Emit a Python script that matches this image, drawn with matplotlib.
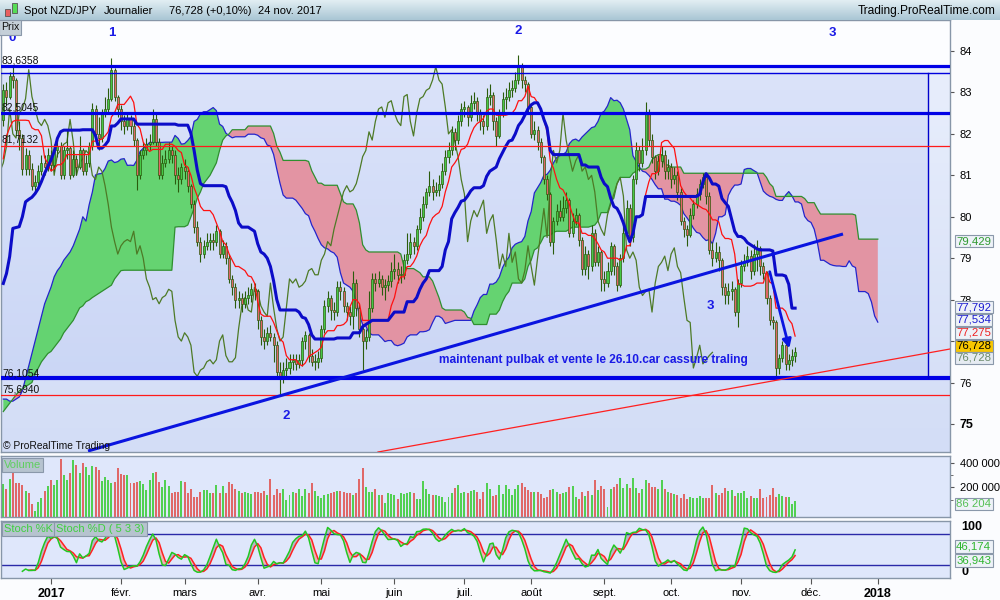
import numpy as np
import pandas as pd
import matplotlib
matplotlib.use("Agg")
import matplotlib.pyplot as plt
from matplotlib.patches import Rectangle, FancyArrowPatch
from matplotlib.colors import LinearSegmentedColormap

plt.rcParams['font.family'] = ['Liberation Sans', 'DejaVu Sans']

# ---------------- DATA (daily NZD/JPY, bar index 0 = 2 Jan 2017, weekdays) ----------------
first_bar = -15
first_open = 82.33
closes = [83.05, 82.9, 83.4, 83.3, 82.1, 81.9, 81.15, 81.5, 81.15, 80.75,
          80.85, 81.1, 81.3, 81.2, 81.5,
          81.25, 81.6, 81.7, 81.0, 81.6, 81.65, 81.0, 81.4, 81.2, 81.6,
          81.1, 81.3, 81.7, 82.6, 82.0, 81.9, 82.5, 82.6, 82.85, 83.55,
          82.9, 82.6, 82.3, 82.2, 82.35, 82.2, 81.85, 81.0, 81.5, 81.6,
          81.75, 81.8, 82.35, 81.8, 81.0, 81.3, 81.4, 81.6, 81.5, 81.0,
          80.9, 81.2, 81.1, 80.75, 80.3, 79.75, 79.4, 79.1, 79.3, 79.4,
          79.45, 79.4, 79.65, 79.1, 79.3, 79.0, 78.5, 78.3, 78.0, 78.05,
          77.9, 78.05, 78.1, 78.25, 78.2, 77.5, 77.1, 77.0, 77.2, 77.1,
          76.9, 76.25, 76.15, 76.3, 76.35, 76.5, 76.55, 76.45, 76.55, 77.0,
          77.15, 76.65, 76.5, 76.5, 76.6, 77.3, 77.85, 78.05, 77.75, 77.7,
          78.3, 78.2, 77.85, 77.7, 77.6, 78.4, 77.8, 77.3, 77.0, 77.1,
          77.8, 78.5, 78.4, 78.5, 78.3, 78.35, 78.45, 78.7, 78.75, 78.6,
          78.6, 78.95, 79.1, 79.4, 79.3, 79.7, 80.0, 80.3, 80.6, 80.75,
          80.6, 80.65, 80.8, 81.1, 81.45, 81.6, 82.05, 81.85, 82.3, 82.6,
          82.65, 82.4, 82.75, 82.8, 82.5, 82.3, 82.2, 82.9, 82.95, 82.3,
          81.95, 82.5, 82.85, 82.9, 83.05, 83.1, 83.3, 83.62, 83.3, 83.2,
          82.65, 82.0, 82.1, 81.8, 81.45, 80.9, 80.55, 79.4, 79.9, 80.15,
          80.0, 80.2, 80.4, 79.6, 79.9, 80.05, 79.45, 78.75, 79.1, 78.8,
          79.6, 78.9, 79.15, 78.5, 78.4, 78.7, 79.3, 78.8, 78.35, 79.0,
          79.6, 80.2, 79.5, 80.9, 81.6, 81.3, 81.6, 82.5, 81.85, 81.45,
          81.1, 81.35, 81.5, 81.1, 81.2, 80.9, 81.0, 80.6, 79.9, 79.7,
          79.55, 80.05, 80.3, 80.55, 80.8, 80.95, 80.5, 79.2, 79.0, 79.15,
          78.95, 78.3, 78.1, 78.2, 78.25, 77.7, 78.4, 78.8, 78.9, 79.05,
          78.7, 79.1, 79.25, 78.8, 78.65, 78.05, 77.5, 77.45, 76.35, 76.6,
          76.9, 76.45, 76.55, 76.65, 76.728]
highs = [83.2, 83.25, 83.5, 83.64, 83.35, 82.3, 82.0, 81.65, 81.6, 81.3,
         81.0, 81.25, 81.5, 81.5, 81.65,
         81.6, 81.75, 81.95, 81.8, 81.7, 82.1, 81.7, 81.6, 81.5, 81.95,
         81.65, 81.5, 81.8, 82.75, 82.7, 82.4, 82.6, 82.9, 83.1, 83.82,
         83.6, 82.95, 82.7, 82.45, 82.5, 82.45, 82.3, 81.9, 81.6, 81.8,
         81.9, 82.0, 82.6, 82.5, 81.9, 81.5, 81.6, 81.8, 81.7, 81.6,
         81.2, 81.3, 81.4, 81.2, 80.8, 80.4, 79.9, 79.5, 79.45, 79.6,
         79.6, 79.6, 79.8, 79.7, 79.45, 79.4, 79.1, 78.6, 78.4, 78.2,
         78.15, 78.2, 78.3, 78.4, 78.4, 78.25, 77.6, 77.3, 77.35, 77.4,
         77.2, 77.0, 76.5, 76.5, 76.6, 76.7, 76.7, 76.7, 76.7, 77.1,
         77.25, 77.2, 76.8, 76.7, 76.75, 77.4, 78.0, 78.2, 78.1, 77.95,
         78.45, 78.45, 78.3, 77.95, 77.85, 78.7, 78.5, 77.9, 77.4, 77.3,
         78.2, 78.65, 78.65, 78.7, 78.6, 78.5, 78.6, 78.9, 79.1, 78.9,
         78.8, 79.1, 79.6, 79.6, 79.5, 79.8, 80.2, 80.5, 80.7, 81.1,
         80.9, 80.85, 81.0, 81.3, 81.6, 81.8, 82.2, 82.15, 82.45, 82.75,
         82.8, 82.7, 82.95, 83.0, 82.9, 82.6, 82.45, 83.1, 83.2, 83.0,
         82.4, 82.6, 83.0, 83.1, 83.25, 83.3, 83.5, 83.9, 83.7, 83.4,
         83.25, 82.7, 82.3, 82.2, 81.9, 81.5, 81.0, 80.6, 80.0, 80.3,
         80.4, 80.5, 80.6, 80.45, 80.1, 80.2, 80.1, 79.5, 79.3, 79.2,
         79.8, 79.7, 79.3, 79.2, 78.7, 78.9, 79.4, 79.35, 78.9, 79.1,
         79.8, 80.4, 80.3, 81.0, 81.8, 81.7, 81.9, 82.78, 82.6, 82.0,
         81.5, 81.5, 81.7, 81.6, 81.4, 81.3, 81.2, 81.1, 80.7, 80.0,
         79.8, 80.2, 80.4, 80.7, 80.9, 81.05, 81.0, 80.6, 79.4, 79.4,
         79.3, 79.0, 78.4, 78.4, 78.45, 78.3, 78.5, 78.95, 79.1, 79.3,
         79.2, 79.35, 79.45, 79.3, 78.9, 78.7, 78.1, 77.6, 77.5, 76.7,
         77.0, 76.95, 76.7, 76.8, 76.85]
lows = [82.2, 82.7, 82.85, 83.1, 82.0, 81.6, 81.0, 81.0, 81.0, 80.65,
        80.56, 80.7, 81.0, 81.0, 81.1,
        81.1, 81.1, 81.45, 80.9, 80.9, 81.4, 80.9, 80.95, 81.0, 81.15,
        81.0, 81.0, 81.2, 81.6, 81.8, 81.6, 81.8, 82.4, 82.5, 82.8,
        82.8, 82.4, 82.1, 82.0, 82.1, 82.0, 81.7, 80.65, 80.9, 81.4,
        81.5, 81.6, 81.75, 81.7, 80.9, 80.9, 81.2, 81.3, 81.3, 80.8,
        80.6, 80.8, 80.9, 80.6, 80.2, 79.6, 79.3, 78.9, 79.0, 79.2,
        79.2, 79.2, 79.3, 79.0, 79.0, 78.85, 78.4, 78.1, 77.8, 77.8,
        77.7, 77.8, 77.9, 77.95, 78.0, 77.3, 76.9, 76.8, 76.9, 77.0,
        76.5, 76.1, 75.7, 76.0, 76.1, 76.2, 76.3, 76.3, 76.35, 76.4,
        76.8, 76.5, 76.4, 76.3, 76.35, 76.5, 77.2, 77.7, 77.5, 77.5,
        77.6, 78.0, 77.7, 77.5, 77.4, 77.3, 77.6, 77.1, 76.3, 76.8,
        77.0, 77.7, 78.2, 78.3, 78.1, 78.0, 78.2, 78.3, 78.5, 78.4,
        78.4, 78.5, 78.85, 79.0, 79.1, 79.2, 79.6, 79.9, 80.2, 80.5,
        80.4, 80.5, 80.5, 80.7, 81.0, 81.3, 81.5, 81.6, 81.75, 82.2,
        82.4, 82.2, 82.3, 82.6, 82.3, 82.1, 82.0, 82.1, 82.7, 82.1,
        81.7, 81.9, 82.4, 82.6, 82.8, 82.9, 83.0, 83.2, 83.1, 83.0,
        82.5, 81.9, 81.85, 81.6, 81.3, 80.8, 80.4, 79.3, 79.1, 79.8,
        79.9, 79.9, 80.1, 79.5, 79.5, 79.8, 79.3, 78.6, 78.6, 78.5,
        78.7, 78.8, 78.8, 78.2, 78.2, 78.3, 78.6, 78.6, 78.2, 78.3,
        78.9, 79.5, 79.3, 79.4, 80.8, 81.1, 81.2, 81.5, 81.7, 81.3,
        80.9, 81.0, 81.2, 80.9, 80.9, 80.7, 80.8, 80.4, 79.8, 79.5,
        79.3, 79.5, 79.95, 80.2, 80.4, 80.7, 80.3, 79.1, 78.8, 78.9,
        78.7, 78.1, 77.9, 77.9, 78.0, 77.6, 77.35, 78.3, 78.7, 78.8,
        78.5, 78.6, 78.7, 78.6, 78.5, 77.9, 77.4, 77.3, 76.14, 76.2,
        76.5, 76.3, 76.3, 76.4, 76.5]
volumes_k = [227, 183, 265, 341, 232, 238, 219, 173, 151, 64,
             8, 80, 110, 173, 211, 259, 219, 259, 430, 300,
             259, 314, 422, 384, 314, 395, 362, 300, 373, 368,
             341, 254, 286, 259, 238, 246, 354, 308, 300, 300,
             238, 232, 246, 254, 227, 178, 259, 314, 324, 246,
             205, 259, 211, 156, 164, 162, 254, 243, 156, 189,
             118, 118, 162, 178, 178, 151, 156, 216, 156, 211,
             151, 243, 230, 183, 173, 156, 162, 156, 146, 162,
             159, 151, 173, 137, 270, 137, 183, 151, 183, 99,
             135, 164, 151, 183, 129, 189, 156, 232, 173, 129,
             110, 140, 146, 151, 164, 173, 173, 164, 156, 151,
             137, 156, 270, 357, 200, 164, 164, 183, 137, 137,
             70, 156, 146, 137, 102, 156, 146, 156, 162, 151,
             102, 102, 254, 189, 143, 135, 137, 129, 124, 78,
             118, 151, 197, 219, 151, 159, 151, 173, 178, 164,
             102, 164, 232, 183, 129, 135, 219,
             146, 219, 183, 137, 183, 219, 238, 205, 178, 164,
             164, 159, 146, 110, 118, 178, 183, 164, 146, 151,
             159, 205, 213, 124, 102, 164, 129, 173, 137, 259,
             178, 211, 186, 43, 183, 205, 224, 278, 194, 224,
             194, 278, 194, 151, 183, 259, 238, 205, 200, 183,
             259, 183, 164, 151, 146, 137, 110, 146, 102, 124,
             110, 110, 132, 110, 110, 110, 219, 151, 137, 156,
             191, 173, 178, 132, 151, 156, 170, 110, 129, 110,
             110, 183, 110, 118, 137, 197, 124, 146, 129, 118,
             118, 62, 86.204]

tenkan_early = [81.4, 81.95, 82.15, 82.3, 82.33, 82.33, 82.33, 82.33]
kijun_early = [78.39, 78.63, 79.04, 79.72, 79.74, 79.76, 80.0, 80.36, 80.42, 80.47,
               80.56, 80.68, 80.85, 81.05, 81.21, 81.37, 81.57, 81.89, 82.05, 82.09,
               82.09, 82.09, 82.09, 82.09, 82.09, 82.09]
span_a_early = [75.6, 75.6, 75.55, 75.55, 75.6, 75.65, 75.8, 76.1, 76.4, 76.7,
                77.0, 77.3, 77.6, 77.9, 78.1, 78.3, 78.55, 78.7, 78.8, 78.95,
                79.05, 79.15, 79.3, 79.5, 79.7, 80.0]
span_b_early = [75.3, 75.4, 75.5, 75.6, 75.7, 75.8, 75.85, 75.9, 75.95, 76.0,
                76.2, 76.35, 76.5, 76.6, 76.7,
                76.75, 76.85, 76.95, 77.05, 77.2, 77.3, 77.4, 77.5, 77.65, 77.8,
                77.85, 77.95, 77.99, 78.05, 78.1, 78.15, 78.2, 78.25, 78.3, 78.35,
                78.5, 78.6, 78.7, 78.71, 78.71, 78.71, 78.71, 78.71, 78.71, 78.71,
                78.71, 78.71, 78.71, 78.71, 78.71, 78.71, 78.71, 78.71, 78.71,
                79.75, 79.76, 79.76, 79.76, 79.8, 80.0, 80.2, 80.45, 80.6, 80.8, 80.9,
                81.0, 81.15, 81.3, 81.6, 81.85, 81.95, 82.0, 82.1, 82.1, 82.1, 82.1, 82.1]

month_ticks = [0, 22, 42, 65, 85, 108, 130, 151, 174, 195, 217, 239, 260]
month_labels = ['2017', 'févr.', 'mars', 'avr.', 'mai', 'juin', 'juil.', 'août',
                'sept.', 'oct.', 'nov.', 'déc.', '2018']

level_blue_thick = [83.6358, 82.5045]
level_support = 76.1054
level_red = [81.7132, 75.6940]
level_labels = ['83,6358', '82,5045', '81,7132', '76,1054', '75,6940']
box_top = 83.469

header_parts = ['Spot NZD/JPY', 'Journalier', '76,728 (+0,10%)', '24 nov. 2017']
value_tags = ['79,429', '77,792', '77,534', '77,275', '76,728', '76,728']
vol_tag = '86 204'
stoch_tags = ['46,174', '36,943']

# ---------------- GEOMETRY HELPERS (pixel layout of the 1000x600 picture) ----------------
X0_PX, BAR_PX = 51.0, 3.18
Y84_PX, UNIT_PX = 51.0, 41.44
def bx(px):
    return (px - X0_PX) / BAR_PX
def by(py):
    return 84 - (py - Y84_PX) / UNIT_PX

XMIN, XMAX = bx(1), bx(950)
YMIN, YMAX = by(452), by(20)

# ---------------- CALCULATIONS ----------------
n = len(closes)
x = np.arange(first_bar, first_bar + n)
C = np.array(closes, float)
H = np.array(highs, float)
L = np.array(lows, float)
O = np.concatenate([[first_open], C[:-1]])
H = np.maximum(H, np.maximum(O, C))
L = np.minimum(L, np.minimum(O, C))
up = C >= O
V = np.array(volumes_k, float) * 1000

sH, sL = pd.Series(H), pd.Series(L)
tenkan = ((sH.rolling(9).max() + sL.rolling(9).min()) / 2).to_numpy()
kijun = ((sH.rolling(26).max() + sL.rolling(26).min()) / 2).to_numpy()
te = np.array(tenkan_early); ke = np.array(kijun_early)
tenkan[:len(te)] = np.where(np.isnan(tenkan[:len(te)]), te, tenkan[:len(te)])
kijun[:len(ke)] = np.where(np.isnan(kijun[:len(ke)]), ke, kijun[:len(ke)])
ssa_raw = (tenkan + kijun) / 2
ssb_raw = ((sH.rolling(52).max() + sL.rolling(52).min()) / 2).to_numpy()
span_x = np.arange(first_bar, x[-1] + 27)
span_a = np.full(len(span_x), np.nan)
span_b = np.full(len(span_x), np.nan)
span_a[26:] = ssa_raw
span_b[26:] = ssb_raw
sa = np.array(span_a_early); sb = np.array(span_b_early)
span_a[:len(sa)] = np.where(np.isnan(span_a[:len(sa)]), sa, span_a[:len(sa)])
span_b[:len(sb)] = np.where(np.isnan(span_b[:len(sb)]), sb, span_b[:len(sb)])

hh5 = sH.rolling(5).max(); ll5 = sL.rolling(5).min()
raw_k = 100 * (pd.Series(C) - ll5) / (hh5 - ll5)
stoch_k = raw_k.rolling(3).mean().to_numpy()
stoch_d = pd.Series(stoch_k).rolling(3).mean().to_numpy()

# ---------------- FIGURE ----------------
fig = plt.figure(figsize=(10, 6), dpi=100)
fig.patch.set_facecolor('#fbfcfe')
def fy(py):
    return 1 - py / 600.0

ax = fig.add_axes([0.001, fy(452), 0.949, (452 - 20) / 600])
axv = fig.add_axes([0.001, fy(517), 0.949, (517 - 456) / 600])
axs = fig.add_axes([0.001, fy(578), 0.949, (578 - 521) / 600])
axh = fig.add_axes([0, fy(20), 1, 20 / 600])

SP = '#8796a8'
for a in (ax, axv, axs):
    a.set_xlim(XMIN, XMAX)
    for s in a.spines.values():
        s.set_color(SP)
        s.set_linewidth(1.0)
    a.yaxis.tick_right()
    a.tick_params(axis='y', direction='out', length=3, width=0.8, color='#555555',
                  labelsize=8, pad=4)

# header
grad = np.linspace(0, 1, 64).reshape(-1, 1)
axh.imshow(grad, extent=[0, 1, 0, 1], origin='lower', aspect='auto',
           cmap=LinearSegmentedColormap.from_list('h', ['#a9c6d4', '#e2eef3']))
axh.set_xlim(0, 1000); axh.set_ylim(0, 1); axh.axis('off')
axh.imshow(grad, extent=[0, 1000, 0, 1], origin='lower', aspect='auto',
           cmap=LinearSegmentedColormap.from_list('h', ['#a9c6d4', '#e2eef3']))
axh.add_patch(Rectangle((4.5, 0.22), 5, 0.35, facecolor='#e86060', edgecolor='#555555', lw=0.6))
axh.add_patch(Rectangle((11.5, 0.35), 5, 0.5, facecolor='#55dd55', edgecolor='#555555', lw=0.6))
for txt, px in zip(header_parts, [24, 104, 169, 258]):
    axh.text(px, 0.45, txt, fontsize=8.0, va='center', ha='left', color='#000000')
axh.text(996, 0.45, 'Trading.ProRealTime.com', fontsize=8.6, va='center', ha='right',
         color='#000000')

# ---- main panel ----
ax.set_ylim(YMIN, YMAX)
bg = LinearSegmentedColormap.from_list('bg', ['#d3ddf6', '#e8eefc'])
ax.imshow(grad, extent=[XMIN, XMAX, YMIN, level_blue_thick[0]], origin='lower',
          aspect='auto', cmap=bg, zorder=0)
ax.axhspan(level_blue_thick[0], YMAX, color='#fcfdff', zorder=0.1)
box_right = bx(928)
ax.add_patch(Rectangle((XMIN, level_support), box_right - XMIN, box_top - level_support,
                       facecolor=(0.2, 0.35, 0.9, 0.07), edgecolor='none', zorder=0.2))

# cloud
ax.fill_between(span_x, span_a, span_b, where=span_a >= span_b, interpolate=True,
                color='#5fd36a', alpha=0.95, lw=0, zorder=1)
ax.fill_between(span_x, span_a, span_b, where=span_a < span_b, interpolate=True,
                color='#e4909f', alpha=0.95, lw=0, zorder=1)
ax.plot(span_x, span_a, color='#2424cc', lw=0.9, zorder=1.5)
ax.plot(span_x, span_b, color='#2f8f2f', lw=0.9, zorder=1.5)

# chikou
ax.plot(x - 26, C, color='#4d7a26', lw=0.9, zorder=2)

# candles
dark = '#2a5c0c'
ax.vlines(x, L, H, color=dark, lw=0.8, zorder=3)
body_h = np.maximum(np.abs(C - O), 0.012)
ax.bar(x, body_h, bottom=np.minimum(O, C), width=0.64,
       color=np.where(up, '#46c846', '#e06666'), edgecolor=dark, linewidth=0.5, zorder=3.1)

# tenkan / kijun
ax.plot(x, tenkan, color='#ff1010', lw=0.9, zorder=4)
ax.plot(x, kijun, color='#0c0cc8', lw=2.2, zorder=4)

# horizontal levels
for lv in level_blue_thick:
    ax.axhline(lv, color='#0000e6', lw=2.3, zorder=5)
ax.axhline(level_support, color='#0000e6', lw=3.0, zorder=5)
ax.axhline(box_top, color='#0000dd', lw=1.0, zorder=5)
ax.plot([box_right, box_right], [level_support, box_top], color='#0000cc', lw=1.0, zorder=5)
for lv in level_red:
    ax.axhline(lv, color='#ff1a1a', lw=0.9, zorder=5)

# trend lines & arrow
ax.plot([bx(88), bx(843)], [by(451), by(234)], color='#0a14e0', lw=2.2, zorder=5,
        solid_capstyle='butt')
ax.plot([bx(378), bx(950)], [by(452), by(349)], color='#ff2020', lw=0.9, zorder=5)
ax.add_patch(FancyArrowPatch((bx(769), by(269)), (bx(790), by(351)), arrowstyle='-|>',
                             mutation_scale=13, lw=2.0, color='#0a14e0', zorder=6))

# level labels
for lab, py in zip(level_labels, [60.5, 107.5, 140, 373.5, 390]):
    ax.text(bx(2), by(py), lab, fontsize=7.4, va='center', ha='left', color='#111111', zorder=7)

# wave labels
wkw = dict(fontsize=9.5, fontweight='bold', color='#1a1ae6', ha='center', va='center', zorder=7)
ax.text(bx(12), by(38), '0', clip_on=False, **wkw)
ax.text(bx(112), by(33), '1', **wkw)
ax.text(bx(518), by(31), '2', **wkw)
ax.text(bx(832), by(33), '3', **wkw)
ax.text(bx(286), by(416), '2', **wkw)
ax.text(bx(710), by(306), '3', **wkw)
ax.text(bx(439), by(360), 'maintenant pulbak et vente le 26.10.car cassure traling',
        fontsize=8.6, fontweight='bold', color='#1a1ae6', ha='left', va='center', zorder=7)
ax.text(bx(3), by(446), '© ProRealTime Trading', fontsize=7.4, color='#111111',
        ha='left', va='center', zorder=7)

ax.set_xticks([])
ax.set_yticks(range(75, 85))
# the "77" label is fully hidden by the value tags in the reference
ax.set_yticklabels(['' if v == 77 else str(v) for v in range(75, 85)])
for t in ax.get_yticklabels():
    if t.get_text() == '75':
        t.set_fontweight('bold'); t.set_fontsize(9)

tag_style = [('#2f9a2f', '#eef2f8'), ('#1a1ad0', '#eef2f8'), ('#1a1ad0', '#eef2f8'),
             ('#ee2020', '#eef2f8'), ('#000000', '#f7c600'), ('#6b8a6b', '#e6ebf2')]
for txt, py, (fc, bc) in zip(value_tags, [241, 307, 320, 333, 346, 358], tag_style):
    ax.text(1.0065, by(py), txt, transform=ax.get_yaxis_transform(), fontsize=8.2,
            color=fc, ha='left', va='center', clip_on=False, zorder=8,
            bbox=dict(boxstyle='square,pad=0.12', facecolor=bc, edgecolor='#8a98aa', lw=0.8))

fig.text(0.001, fy(27.5), 'Prix', fontsize=7.6, ha='left', va='center', color='#111111',
         bbox=dict(boxstyle='square,pad=0.2', facecolor='#c4cfd8', edgecolor='#8a98aa', lw=0.8),
         zorder=10)

# ---- volume panel ----
VMIN, VMAX = -41500, 454000
axv.set_ylim(VMIN, VMAX)
axv.set_facecolor('#dfe7fb')
axv.bar(x, V - VMIN, bottom=VMIN, width=0.62, color=np.where(up, '#52d052', '#e06868'),
        lw=0, zorder=2)
axv.set_xticks([])
axv.set_yticks([200000, 400000])
axv.set_yticklabels(['200 000', '400 000'])
axv.set_yticks([100000, 300000], minor=True)
axv.tick_params(axis='y', which='minor', direction='out', length=2, color='#555555')
axv.text(0.003, 0.93, 'Volume', transform=axv.transAxes, fontsize=8, color='#5fcf5f',
         ha='left', va='top', bbox=dict(boxstyle='square,pad=0.2', facecolor='#b6c3cf',
                                        edgecolor='#8a98aa', lw=0.8), zorder=8)
axv.text(1.0065, 64000, vol_tag, transform=axv.get_yaxis_transform(), fontsize=8.2,
         color='#55c055', ha='left', va='center', clip_on=False, zorder=8,
         bbox=dict(boxstyle='square,pad=0.12', facecolor='#eef2f8', edgecolor='#8a98aa', lw=0.8))

# ---- stochastic panel ----
SMIN, SMAX = -3.8, 103.6
axs.set_ylim(SMIN, SMAX)
axs.set_facecolor('#dfe7fb')
axs.fill_between(x, stoch_k, stoch_d, where=stoch_k >= stoch_d, interpolate=True,
                 color='#b4b6c8', lw=0, zorder=1)
axs.fill_between(x, stoch_k, stoch_d, where=stoch_k < stoch_d, interpolate=True,
                 color='#eeb0b6', lw=0, zorder=1)
axs.plot(x, stoch_d, color='#ff2222', lw=1.1, zorder=2)
axs.plot(x, stoch_k, color='#22c822', lw=1.1, zorder=3)
axs.axhline(80, color='#2a2aa8', lw=1.0, zorder=1.5)
axs.axhline(20, color='#2a2aa8', lw=1.0, zorder=1.5)
axs.set_yticks([])
axs.text(1.012, 92.3, '100', transform=axs.get_yaxis_transform(), fontsize=9,
         fontweight='bold', ha='left', va='center', clip_on=False)
axs.text(1.012, 6.8, '0', transform=axs.get_yaxis_transform(), fontsize=9,
         fontweight='bold', ha='left', va='center', clip_on=False)
for txt, val in zip(stoch_tags, [56.1, 28.6]):
    axs.text(1.0065, val, txt, transform=axs.get_yaxis_transform(), fontsize=8.2,
             color='#2fb52f', ha='left', va='center', clip_on=False, zorder=8,
             bbox=dict(boxstyle='square,pad=0.12', facecolor='#eef2f8', edgecolor='#8a98aa', lw=0.8))
lab_kw = dict(transform=axs.transAxes, fontsize=8, color='#3fcf3f', ha='left', va='top',
              bbox=dict(boxstyle='square,pad=0.2', facecolor='#b6c3cf', edgecolor='#8a98aa', lw=0.8),
              zorder=8)
axs.text(0.003, 0.95, 'Stoch %K', **lab_kw)
axs.text(0.058, 0.95, 'Stoch %D ( 5 3 3)', **lab_kw)

axs.set_xticks(month_ticks)
axs.set_xticklabels(month_labels)
axs.tick_params(axis='x', direction='out', length=4, color='#555555', labelsize=8, pad=3)
for t in axs.get_xticklabels():
    if t.get_text() in ('2017', '2018'):
        t.set_fontweight('bold'); t.set_fontsize(9)

fig.savefig('out.png', dpi=100, facecolor=fig.get_facecolor())
